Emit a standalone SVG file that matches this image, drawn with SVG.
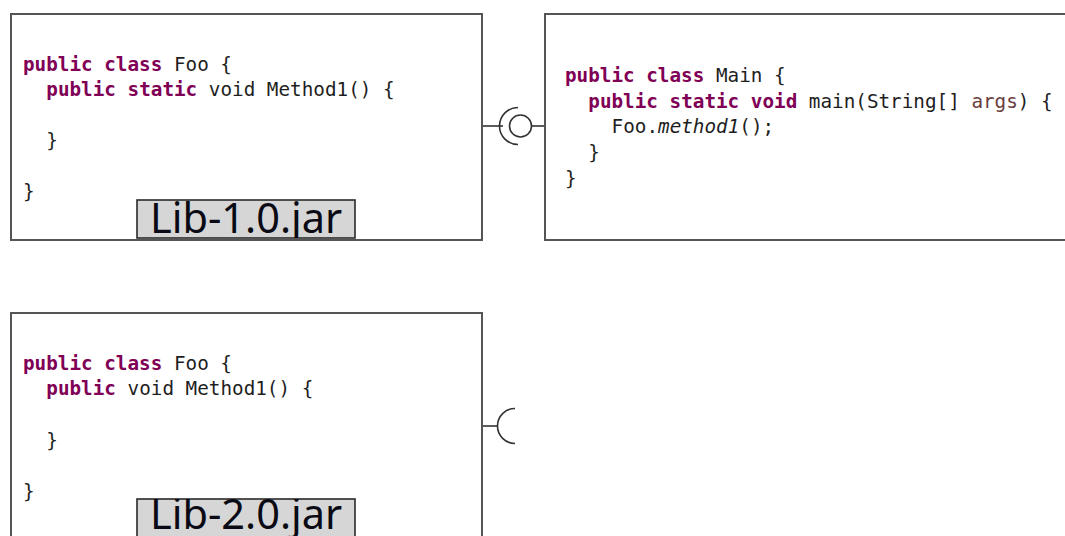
<svg xmlns="http://www.w3.org/2000/svg" width="1065" height="536" viewBox="0 0 1065 536">
  <style>
    .box { fill: #ffffff; stroke: #555555; stroke-width: 2; }
    .code { font-family: "DejaVu Sans Mono", "Liberation Mono", monospace; font-size: 19.3px; fill: #1e1e1e; }
    .kw { fill: #7f0055; font-weight: bold; }
    .param { fill: #6a3e3e; }
    .it { font-style: italic; }
    .tag { fill: #d6d6d6; stroke: #2a2a2a; stroke-width: 1.6; }
    .tagtext { font-family: "Noto Sans", "Open Sans", sans-serif; font-size: 41.5px; fill: #0a0a14; }
    .conn { fill: none; stroke: #333333; stroke-width: 1.6; }
  </style>
  <defs>
    <clipPath id="clip1"><rect x="137" y="200" width="218" height="38"/></clipPath>
    <clipPath id="clip2"><rect x="137" y="499" width="218" height="40"/></clipPath>
  </defs>
  <rect x="0" y="0" width="1065" height="536" fill="#ffffff"/>

  <g id="connectors">
    <line class="conn" x1="482" y1="126" x2="503" y2="126"/>
    <path class="conn" d="M 518 107.5 A 18.5 18.5 0 0 0 518 144.5"/>
    <circle class="conn" cx="520.5" cy="126" r="11"/>
    <line class="conn" x1="531.5" y1="126" x2="545" y2="126"/>
    <line class="conn" x1="482" y1="426" x2="498" y2="426"/>
    <path class="conn" d="M 515 408.5 A 17.5 17.5 0 0 0 515 443.5"/>
  </g>

  <g id="lib1">
    <rect class="box" x="11" y="14" width="471" height="226"/>
    <text class="code" xml:space="preserve" x="23" y="70.5"><tspan class="kw">public class</tspan> Foo {</text>
    <text class="code" xml:space="preserve" x="46.3" y="96"><tspan class="kw">public static</tspan> void Method1() {</text>
    <text class="code" x="46.3" y="147">}</text>
    <text class="code" x="23" y="198">}</text>
    <g id="lib1-label">
      <rect class="tag" x="137" y="200" width="218" height="38"/>
      <text class="tagtext" x="150" y="232.5" clip-path="url(#clip1)">Lib-1.0.jar</text>
    </g>
  </g>

  <g id="main">
    <rect class="box" x="545" y="14" width="530" height="226"/>
    <text class="code" xml:space="preserve" x="565" y="81.7"><tspan class="kw">public class</tspan> Main {</text>
    <text class="code" xml:space="preserve" x="588.3" y="107.5"><tspan class="kw">public static void</tspan> main(String[] <tspan class="param">args</tspan>) {</text>
    <text class="code" xml:space="preserve" x="611.6" y="133.3">Foo.<tspan class="it">method1</tspan>();</text>
    <text class="code" x="588.3" y="159">}</text>
    <text class="code" x="565" y="185">}</text>
  </g>

  <g id="lib2">
    <rect class="box" x="11" y="313" width="471" height="240"/>
    <text class="code" xml:space="preserve" x="23" y="369.5"><tspan class="kw">public class</tspan> Foo {</text>
    <text class="code" xml:space="preserve" x="46.3" y="395"><tspan class="kw">public</tspan> void Method1() {</text>
    <text class="code" x="46.3" y="446.5">}</text>
    <text class="code" x="23" y="497.5">}</text>
    <g id="lib2-label">
      <rect class="tag" x="137" y="499" width="218" height="45"/>
      <text class="tagtext" x="150" y="529" clip-path="url(#clip2)">Lib-2.0.jar</text>
    </g>
  </g>
</svg>
